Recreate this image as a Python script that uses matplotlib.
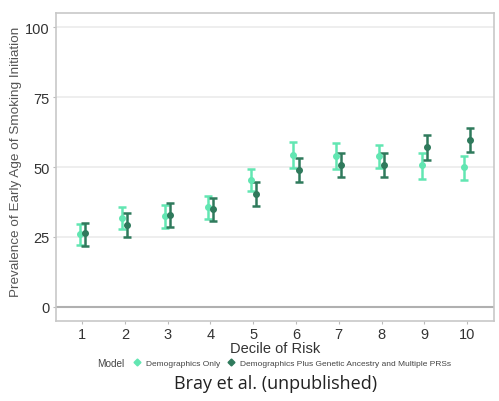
import matplotlib as mpl
mpl.use('Agg')
import matplotlib.pyplot as plt
from matplotlib.lines import Line2D
import numpy as np

plt.rcParams['font.family'] = ['Liberation Sans', 'DejaVu Sans']

deciles = [1, 2, 3, 4, 5, 6, 7, 8, 9, 10]

demo_mean = [26.1, 31.8, 32.4, 35.6, 45.5, 54.3, 54.0, 54.0, 50.8, 49.9]
demo_low = [22.1, 27.9, 28.1, 31.4, 41.3, 49.5, 49.3, 49.6, 45.7, 45.5]
demo_high = [29.6, 35.8, 36.6, 39.8, 49.3, 58.8, 58.4, 58.0, 55.0, 54.0]

prs_mean = [26.4, 29.4, 32.9, 35.0, 40.5, 48.9, 50.8, 50.8, 57.0, 59.6]
prs_low = [21.9, 25.1, 28.5, 30.8, 36.1, 44.5, 46.3, 46.3, 52.6, 55.2]
prs_high = [30.0, 33.5, 37.0, 38.9, 44.5, 53.2, 55.0, 55.0, 61.4, 63.8]

labels = ['Demographics Only', 'Demographics Plus Genetic Ancestry and Multiple PRSs']
light = '#62e6b2'
dark = '#2f7a5c'

fig = plt.figure(figsize=(4.99, 4.02), dpi=100)
ax = fig.add_axes([56 / 499, 1 - 322 / 402, 438 / 499, 308 / 402])

x = np.array(deciles)
for xs, m, lo, hi, c in [(x - 0.06, demo_mean, demo_low, demo_high, light),
                         (x + 0.06, prs_mean, prs_low, prs_high, dark)]:
    m = np.array(m)
    err = [m - np.array(lo), np.array(hi) - m]
    ax.errorbar(xs, m, yerr=err, fmt='o', color=c, ms=4, elinewidth=1.8,
                capsize=3, capthick=1.8, zorder=3)

ax.set_xlim(0.39, 10.63)
ax.set_ylim(-5, 105)
ax.set_xticks(deciles)
ax.set_yticks([0, 25, 50, 75, 100])
for v in [25, 50, 75, 100]:
    ax.axhline(v, color='#ebebeb', lw=1.2, zorder=1)
ax.axhline(0, color='#b0b0b0', lw=1.5, zorder=1)
for s in ax.spines.values():
    s.set_color('#c8c8c8')
    s.set_linewidth(1.2)
ax.tick_params(length=2.5, width=0.8, color='#bbbbbb', labelsize=10.5,
               labelcolor='#333333', pad=2)
ax.set_xlabel('Decile of Risk', fontsize=10.5, color='#333333', labelpad=0)
ax.set_ylabel('Prevalence of Early Age of Smoking Initiation', fontsize=9.7,
              color='#555555', labelpad=3)
ax.yaxis.set_label_coords(-0.078, 0.52)

fig.text(97 / 499, 1 - 364 / 402, 'Model', fontsize=7.2, color='#444444', va='center')
handles = [Line2D([], [], marker='D', ls='', color=light, ms=3.5),
           Line2D([], [], marker='D', ls='', color=dark, ms=3.5)]
leg = fig.legend(handles, labels, loc='center left', bbox_to_anchor=(128 / 499, 1 - 364 / 402),
                 ncol=2, frameon=False, fontsize=6.0, handlelength=1.2,
                 handletextpad=0.4, columnspacing=0.8, borderpad=0)
for t in leg.get_texts():
    t.set_color('#444444')

fig.text(276 / 499, 1 - 384 / 402, 'Bray et al. (unpublished)', fontsize=13,
         family='Open Sans', color='#222222', ha='center', va='center')

fig.savefig('out.png', dpi=100)
